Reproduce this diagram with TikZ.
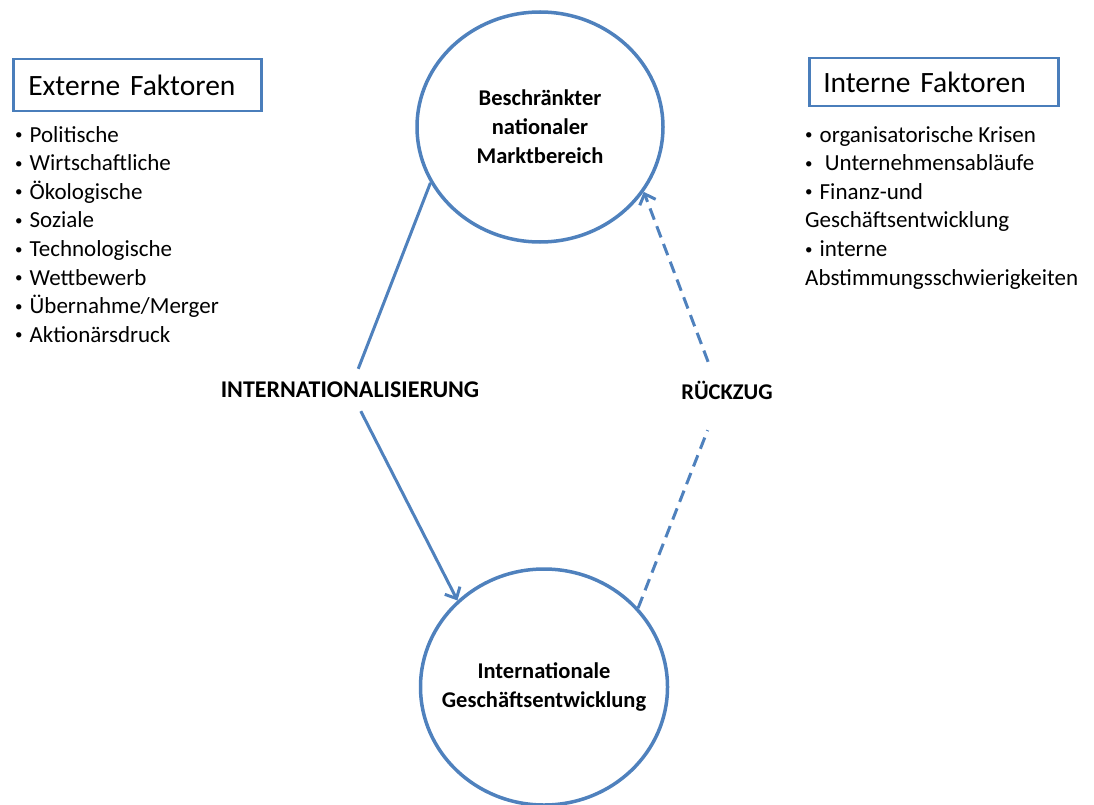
\documentclass[tikz,border=0pt]{standalone}
\usepackage{fontspec}
\setmainfont{Carlito}
\usetikzlibrary{shapes.geometric,arrows.meta}
\definecolor{office}{HTML}{4F81BD}
\definecolor{officerand}{HTML}{4A7EBB}
\newcommand{\pkt}{\raisebox{2.4pt}{\fontsize{15}{15}\selectfont\textbullet}\hspace{7pt}}

\begin{document}
\begin{tikzpicture}[x=1pt,y=-1pt,
    kreis/.style={ellipse,draw=office,line width=3.5pt,inner sep=0pt},
    kreistext/.style={align=center,font=\fontsize{22.5}{29}\selectfont\bfseries},
    titel/.style={draw=officerand,line width=2.5pt,anchor=north west,inner xsep=15pt,inner ysep=0pt,align=left,font=\fontsize{29.5}{34}\selectfont},
    liste/.style={anchor=north west,inner sep=0pt,align=left,font=\fontsize{23}{28.6}\selectfont},
    stichwort/.style={inner sep=0pt,font=\fontsize{22.5}{27}\selectfont\bfseries},
    pfeil/.style={draw=office,line width=3pt,-{Straight Barb[length=9pt,width=17pt]}}]
    \useasboundingbox (0,0) rectangle (1094,805);

    \node[kreis,minimum width=246pt,minimum height=230pt] (markt) at (540,127) {};
    \node[kreistext] (markttext) at (markt) {Beschränkter\\nationaler\\Marktbereich};
    \node[kreis,minimum width=247pt,minimum height=236pt] (gesch) at (544,687) {};
    \node[kreistext] (geschtext) at (gesch) {Internationale\\Geschäftsentwicklung};

    \node[titel,text width=218pt,minimum height=52pt] (extern) at (12,58) {Externe Faktoren};
    \node[liste] (externliste) at (15,126) {\pkt Politische\\\pkt Wirtschaftliche\\\pkt Ökologische\\\pkt Soziale\\\pkt Technologische\\\pkt Wettbewerb\\\pkt Übernahme/Merger\\\pkt Aktionärsdruck};

    \node[titel,inner xsep=14pt,text width=221pt,minimum height=48pt] (intern) at (808,57) {Interne Faktoren};
    \node[liste] (internliste) at (805,126) {\pkt organisatorische Krisen\\\pkt\ Unternehmensabläufe\\\pkt Finanz-und\\Geschäftsentwicklung\\\pkt interne\\Abstimmungsschwierigkeiten};

    \node[stichwort,font=\fontsize{24}{28}\selectfont\bfseries,minimum height=42pt] (intl) at (350,390) {INTERNATIONALISIERUNG};
    \node[stichwort,minimum height=68pt,text depth=12pt] (rueck) at (721,396) {\hspace*{12pt}RÜCKZUG};

    \draw[pfeil] (markt.207) -- (intl) -- (gesch.135);
    \draw[pfeil,dash pattern=on 12pt off 7pt] (gesch.40) -- (rueck) -- (markt.328);
\end{tikzpicture}
\end{document}
